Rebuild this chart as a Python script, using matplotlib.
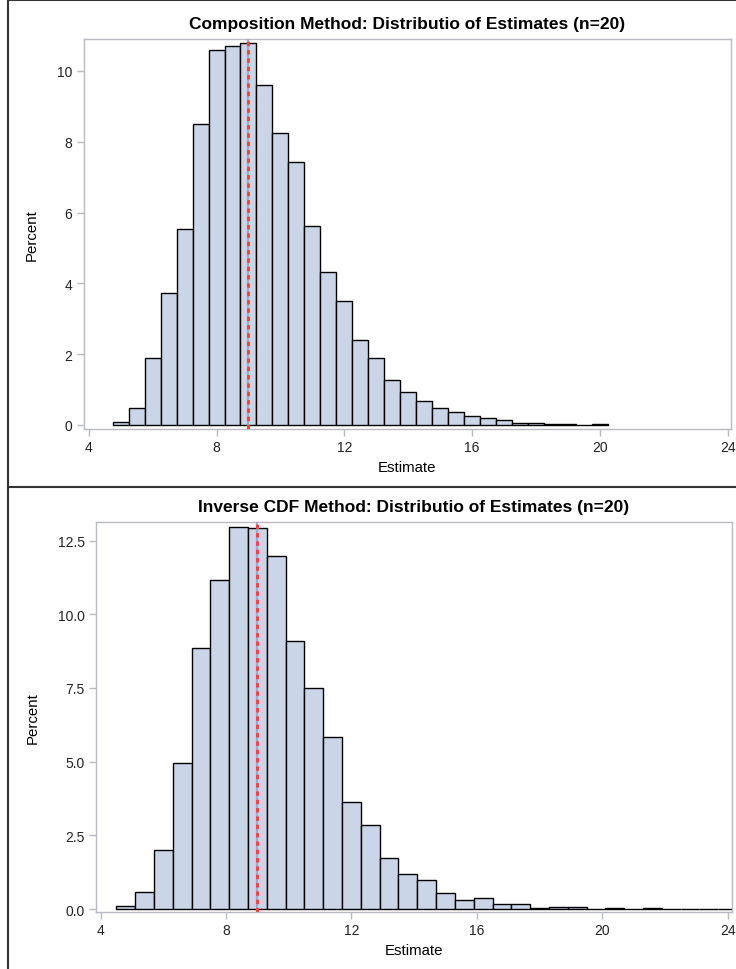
import numpy as np
import matplotlib
matplotlib.use("Agg")
import matplotlib.pyplot as plt
from matplotlib.lines import Line2D

plt.rcParams['font.family'] = ['Liberation Sans', 'DejaVu Sans']

# Composition method: bins of width 0.5 starting at 4.75
comp_start, comp_width = 4.75, 0.5
comp_pct = [0.09, 0.47, 1.89, 3.74, 5.53, 8.49, 10.58, 10.70, 10.80, 9.60,
            8.24, 7.44, 5.62, 4.31, 3.49, 2.39, 1.88, 1.26, 0.92, 0.69,
            0.47, 0.36, 0.26, 0.20, 0.14, 0.05, 0.05, 0.02, 0.02, 0.01, 0.02]

# Inverse CDF method: bins of width 0.6 starting at 4.5
inv_start, inv_width = 4.5, 0.6
inv_pct = [0.09, 0.59, 2.00, 4.94, 8.85, 11.15, 12.95, 12.94, 11.97, 9.10,
           7.49, 5.85, 3.63, 2.86, 1.72, 1.18, 1.00, 0.54, 0.32, 0.38,
           0.16, 0.16, 0.03, 0.06, 0.06, 0.0, 0.02, 0.01, 0.02, 0.005,
           0.005, 0.005, 0.005]

true_value = 9.0
comp_yticks = [0, 2, 4, 6, 8, 10]
inv_yticks = [0.0, 2.5, 5.0, 7.5, 10.0, 12.5]
xticks = [4, 8, 12, 16, 20, 24]

W, H = 736, 970
fig = plt.figure(figsize=(W / 100, H / 100), dpi=100)

BAR = '#CAD5E7'
GRID = '#B8BCC2'


def px_axes(l, t, r, b):
    return fig.add_axes([l / W, 1 - b / H, (r - l) / W, (b - t) / H])


def draw_hist(ax, start, width, pct, title, xlim, ylim, yticks, yfmt):
    edges = start + width * np.arange(len(pct))
    ax.bar(edges, pct, width=width, align='edge', color=BAR,
           edgecolor='black', linewidth=1.0, zorder=2)
    ax.axvline(true_value, color='#a8a8c0', linewidth=1.6, zorder=3)
    ax.axvline(true_value, color='#ff3a3a', linewidth=2.0,
               dashes=(1.6, 1.4), zorder=4)
    ax.set_xlim(*xlim)
    ax.set_ylim(*ylim)
    ax.set_xticks(xticks)
    ax.set_yticks(yticks)
    ax.set_yticklabels([yfmt.format(v) for v in yticks])
    for s in ax.spines.values():
        s.set_color(GRID)
        s.set_linewidth(1.0)
    ax.tick_params(direction='out', length=5, width=1, color=GRID,
                   labelsize=10, labelcolor='#222222', pad=3)
    ax.set_title(title, fontsize=12.5, fontweight='bold', pad=8)
    ax.set_xlabel('Estimate', fontsize=10.8, labelpad=4)
    ax.set_ylabel('Percent', fontsize=10.8, labelpad=13)


ax1 = px_axes(83.5, 40, 731, 430)
draw_hist(ax1, comp_start, comp_width, comp_pct,
          'Composition Method: Distributio of Estimates (n=20)',
          (3.837, 24.10), (-0.113, 10.90), comp_yticks, '{:d}')

ax2 = px_axes(96, 523, 732, 913)
draw_hist(ax2, inv_start, inv_width, inv_pct,
          'Inverse CDF Method: Distributio of Estimates (n=20)',
          (3.85, 24.14), (-0.10, 13.13), inv_yticks, '{:.1f}')

# panel borders
for (x0, y0, x1, y1) in [(8, 1, 736, 1), (8, 0, 8, 970), (8, 488, 736, 488)]:
    fig.add_artist(Line2D([x0 / W, x1 / W], [1 - y0 / H, 1 - y1 / H],
                          color='#333333', linewidth=1.5,
                          transform=fig.transFigure))

fig.savefig('out.png', dpi=100)
